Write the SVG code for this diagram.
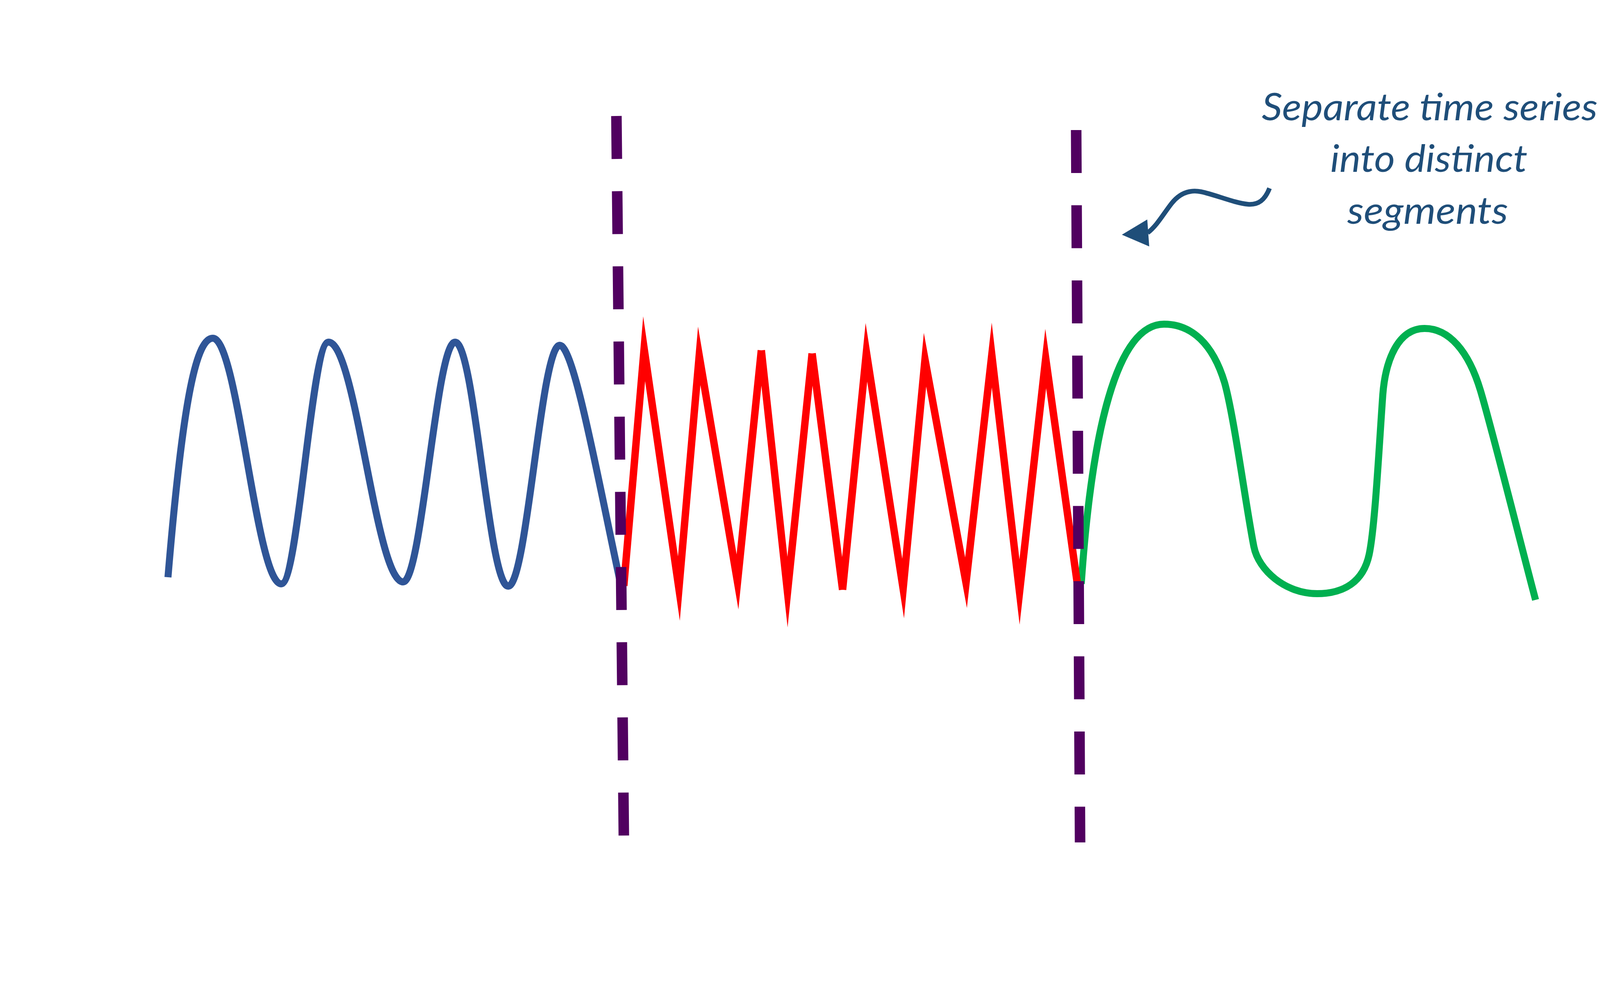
<svg xmlns="http://www.w3.org/2000/svg" width="4456" height="2540" viewBox="0 0 4456 2540">
<style>
.series{fill:none;stroke-linejoin:miter;stroke-miterlimit:40;stroke-linecap:butt}
.blue{stroke:#2F5597;stroke-width:18;stroke-linejoin:round}
.red{stroke:#FF0000;stroke-width:19}
.green{stroke:#00B050;stroke-width:18;stroke-linejoin:round}
.divider{fill:none;stroke:#510060;stroke-width:27;stroke-dasharray:110 82.5;stroke-linecap:butt}
.conn{fill:none;stroke:#1F4E79;stroke-width:12}
.head{fill:#1F4E79}
.lbl{font-family:Lato,"Open Sans","Noto Sans",sans-serif;font-style:italic;font-size:98px;fill:#1F4E79;text-anchor:middle}
</style>
<rect width="4456" height="2540" fill="#FFFFFF"/>
<g id="segment-blue">
<path class="series blue" d="M430,1478 C470,1000 505,866 545,866 C609,866 656,1495 720,1495 C764,1495 797,876 841,876 C911,876 962,1490 1032,1490 C1080,1490 1117,876 1165,876 C1215,876 1251,1501 1301,1501 C1349,1501 1385,884 1433,884 C1470,884 1535,1250 1592,1510"/>
</g>
<g id="segment-green">
<path class="series green" d="M2768,1495 C2795,1100 2860,830 2980,830 C3050,830 3105,880 3135,980 C3160,1070 3190,1300 3210,1400 C3222,1460 3290,1520 3372,1520 C3440,1520 3490,1490 3505,1420 C3520,1350 3530,1150 3540,1010 C3547,920 3580,841 3647,841 C3710,841 3760,900 3790,1000 C3820,1100 3900,1420 3931,1536"/>
</g>
<g id="segment-red">
<path class="series red" d="M1597,1500 L1649,893 L1738,1507 L1790,911 L1888,1490 L1949,897 M1949,897 L2016,1516 L2079,905 M2079,905 L2157,1510 M2157,1510 L2218,902 L2312,1507 L2368,921 L2473,1492 L2539,909 L2610,1516 L2677,918 L2758,1495"/>
</g>
<g id="boundary-1">
<line class="divider" x1="1578" y1="297" x2="1597" y2="2140"/>
</g>
<g id="boundary-2">
<line class="divider" x1="2755" y1="333" x2="2765" y2="2157"/>
</g>
<g id="connectors">
<path class="conn" d="M3250,482 C3238,512 3222,525 3195,523 C3160,520 3110,498 3075,491 C3045,485 3020,495 3000,520 C2980,545 2962,578 2938,596"/>
<polygon class="head" points="2872,601 2937,562 2942,631"/>
</g>
<g id="label">
<text class="lbl" x="3660" y="308" textLength="860" lengthAdjust="spacingAndGlyphs">Separate time series</text>
<text class="lbl" x="3658" y="440" textLength="505" lengthAdjust="spacingAndGlyphs">into distinct</text>
<text class="lbl" x="3655" y="573" textLength="412" lengthAdjust="spacingAndGlyphs">segments</text>
</g>
</svg>
